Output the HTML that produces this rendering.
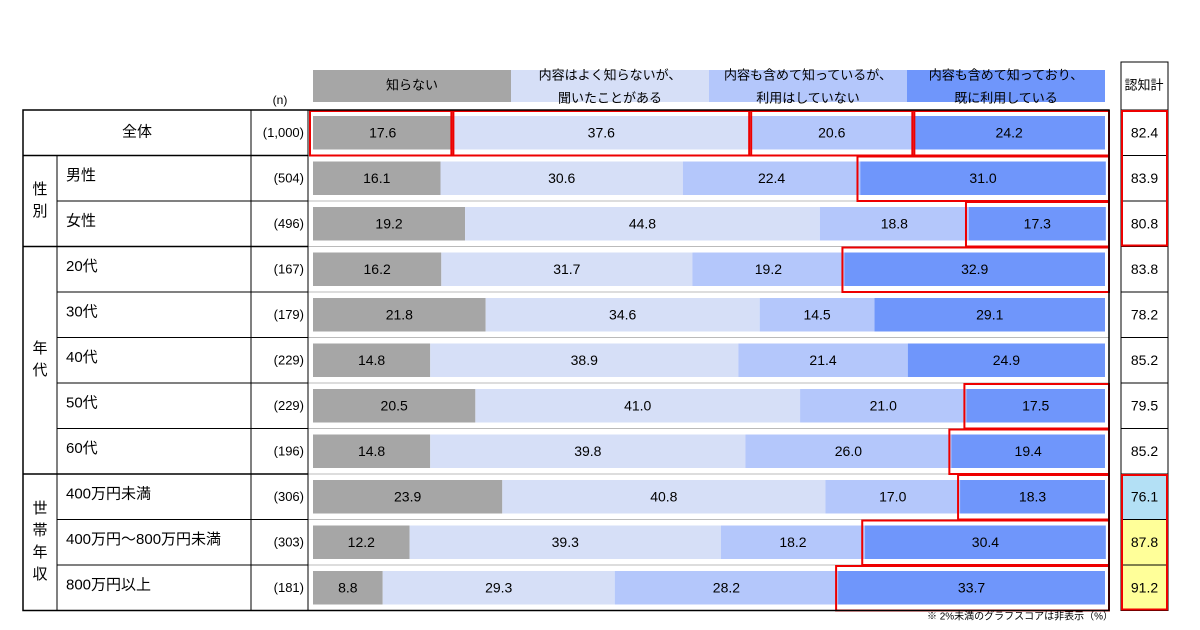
<!DOCTYPE html>
<html><head><meta charset="utf-8"><style>
body{margin:0;background:#fff}
svg{display:block;font-family:"Liberation Sans","Noto Sans CJK JP",sans-serif}
</style></head><body>
<svg id="c" width="1200" height="630"></svg>
<script>
const categories=["全体","男性","女性","20代","30代","40代","50代","60代","400万円未満","400万円～800万円未満","800万円以上"];
const nValues=["(1,000)","(504)","(496)","(167)","(179)","(229)","(229)","(196)","(306)","(303)","(181)"];
const notKnow=[17.6,16.1,19.2,16.2,21.8,14.8,20.5,14.8,23.9,12.2,8.8];
const heardOnly=[37.6,30.6,44.8,31.7,34.6,38.9,41.0,39.8,40.8,39.3,29.3];
const knowNotUse=[20.6,22.4,18.8,19.2,14.5,21.4,21.0,26.0,17.0,18.2,28.2];
const knowUse=[24.2,31.0,17.3,32.9,29.1,24.9,17.5,19.4,18.3,30.4,33.7];
const awareTotal=[82.4,83.9,80.8,83.8,78.2,85.2,79.5,85.2,76.1,87.8,91.2];
const legendLabels=[["知らない"],["内容はよく知らないが、","聞いたことがある"],["内容も含めて知っているが、","利用はしていない"],["内容も含めて知っており、","既に利用している"]];
const colors=["#a6a6a6","#d6dff7","#b4c7fb","#6f96fb"];
const highlightLast=[1,2,3,6,7,8,9,10];

const svg=document.getElementById('c');const NS="http://www.w3.org/2000/svg";
function mk(t,a,p){const e=document.createElementNS(NS,t);for(const k in a)e.setAttribute(k,a[k]);(p||svg).appendChild(e);return e;}
function txt(x,y,s,size,anchor,name){const e=mk('text',{x:x,y:y,'font-size':size,'text-anchor':anchor||'middle','dominant-baseline':'middle',fill:'#000'});e.textContent=s;

return e;}
const X0=313,X1=1105,TOP0=110,rh=45.5;
const xs=v=>X0+(X1-X0)*v/100;
const rowY=i=>TOP0+i*rh;
const lw=(X1-X0)/4;
legendLabels.forEach((l,j)=>{const r=mk('rect',{x:X0+j*lw,y:70,width:lw,height:32,fill:colors[j]});


if(l.length==1)txt(X0+j*lw+lw/2,86,l[0],13,'middle','legend-label');else{txt(X0+j*lw+lw/2,76,l[0],13,'middle','legend-label');txt(X0+j*lw+lw/2,99,l[1],13,'middle','legend-label');}});
txt(280,101,"(n)",12,'middle','n-header');
txt(1144,86,"認知計",13,'middle','total-header');
awareTotal.forEach((v,i)=>{const fill=i==8?'#b3e0f5':(i>8?'#ffff99':'#fff');
const r=mk('rect',{x:1121,y:rowY(i),width:47,height:rh,fill:fill,stroke:'#000','stroke-width':1});


txt(1144.5,rowY(i)+rh/2+1,v.toFixed(1),14,'middle','total-value');});
mk('rect',{x:1121,y:62,width:47,height:48,fill:'none',stroke:'#000'});
const series=[notKnow,heardOnly,knowNotUse,knowUse];
categories.forEach((c,i)=>{let acc=0;const y=rowY(i)+6,h=rh-12;
series.forEach((s,j)=>{const v=s[i];const r=mk('rect',{x:xs(acc),y:y,width:xs(acc+v)-xs(acc),height:h,fill:colors[j]});


txt((xs(acc)+xs(acc+v))/2,y+h/2+1,v.toFixed(1),14,'middle','bar-value');acc+=v;});
mk('line',{x1:308,x2:1109,y1:rowY(i+1),y2:rowY(i+1),stroke:'#bbb'});
});
function red(x1,x2,i){mk('rect',{x:x1,y:rowY(i)+1,width:x2-x1,height:rh-1,fill:'none',stroke:'#e00','stroke-width':2});}
{let a=0;series.forEach((s,j)=>{const v=s[0];red(j==0?310:xs(a)-1,j==3?1109:xs(a+v)+1,0);a+=v;});}
highlightLast.forEach(i=>{const start=100-knowUse[i];red(xs(start)-2,1109,i);});
mk('rect',{x:1122,y:rowY(0)+1,width:45,height:rh*3-2,fill:'none',stroke:'#e00','stroke-width':2});
mk('rect',{x:1122,y:rowY(8)+1,width:45,height:rh*3-2,fill:'none',stroke:'#e00','stroke-width':2});
const L=23,B=TOP0+11*rh;
mk('rect',{x:L,y:TOP0,width:1109-L,height:11*rh,fill:'none',stroke:'#000','stroke-width':1.5});
[251,308].forEach(x=>mk('line',{x1:x,x2:x,y1:TOP0,y2:B,stroke:'#000'}));
mk('line',{x1:57,x2:57,y1:rowY(1),y2:B,stroke:'#000'});
[1,3,8].forEach(i=>mk('line',{x1:L,x2:308,y1:rowY(i),y2:rowY(i),stroke:'#000','stroke-width':1.5}));
[2,4,5,6,7,9,10].forEach(i=>mk('line',{x1:57,x2:308,y1:rowY(i),y2:rowY(i),stroke:'#000'}));
categories.forEach((c,i)=>{if(i==0)txt(137,rowY(0)+rh/2,c,15,'middle','row-label');else txt(66,rowY(i)+rh/2-2,c,15,'start','row-label');
txt(304,rowY(i)+rh/2+1,nValues[i],13,'end','n-value');});
[["性","別",1,2],["年","代",3,5],["世","帯","年","収",8,3]].forEach(g=>{const chars=g.slice(0,g.length-2),s=g[g.length-2],n=g[g.length-1];
const cy=rowY(s)+n*rh/2;chars.forEach((ch,k)=>txt(40,cy+(k-(chars.length-1)/2)*22,ch,15,'middle','group-label'));});
txt(1020,617,"※ 2%未満のグラフスコアは非表示（%）",10,'middle','footnote');
</script></body></html>
